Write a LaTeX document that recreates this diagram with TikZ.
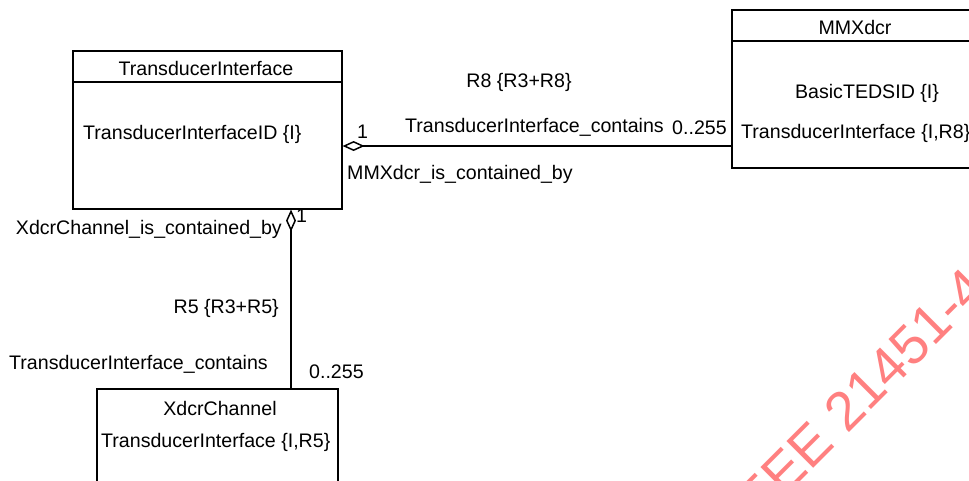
\documentclass[tikz,border=0pt]{standalone}
\usepackage{fontspec}
\setmainfont{Liberation Sans}
\usetikzlibrary{arrows.meta}
\definecolor{wmred}{RGB}{255,128,128}
\begin{document}
\begin{tikzpicture}[x=1pt,y=-1pt,
  box/.style={draw, line width=1.6pt, anchor=north west, inner sep=0pt},
  lbl/.style={inner sep=0pt, font=\fontsize{19.6}{23}\selectfont},
  divider/.style={line width=1.6pt},
  conn/.style={line width=1.5pt},
  agg/.style={conn, {Diamond[open,length=22pt,width=10pt]}-}]
\useasboundingbox (0,0) rectangle (969,480);
\clip (0,0) rectangle (969,480);
% watermark
\node[inner sep=0pt, rotate=45, anchor=base west, text=wmred,
      font=\fontsize{55}{60}\selectfont] (wm) at (747.6,534) {IEEE 21451-4};
% boxes
\node[box, minimum width=269pt, minimum height=158pt] (ti) at (72,50) {};
\node[box, minimum width=248pt, minimum height=158pt] (mm) at (731,9) {};
\node[box, minimum width=241pt, minimum height=140pt] (xc) at (96,388) {};
\coordinate (d1) at (0,82);
\coordinate (d2) at (0,41);
\draw[divider] (ti.west |- d1) -- (ti.east |- d1);
\draw[divider] (mm.west |- d2) -- (mm.east |- d2);
% box texts
\node[lbl, anchor=base] (titi) at (206,75) {TransducerInterface};
\node[lbl, anchor=base west] (tiattr) at (83,139) {TransducerInterfaceID \{I\}};
\node[lbl, anchor=base] (mmt) at (855,34) {MMXdcr};
\node[lbl, anchor=base] (mma1) at (867,98) {BasicTEDSID \{I\}};
\node[lbl, anchor=base west] (mma2) at (741,138) {TransducerInterface \{I,R8\}};
\node[lbl, anchor=base] (xct) at (220,415) {XdcrChannel};
\node[lbl, anchor=base west] (xca) at (101,447) {TransducerInterface \{I,R5\}};
% connectors
\coordinate (h) at (0,146);
\coordinate (v) at (291,0);
\draw[agg] (ti.east |- h) -- (mm.west |- h);
\draw[agg] (ti.south -| v) -- (xc.north -| v);
% connector labels
\node[lbl, anchor=base] (r8) at (519,87) {R8 \{R3+R8\}};
\node[lbl, anchor=base west] (one1) at (357,138) {1};
\node[lbl, anchor=base west] (ticont1) at (405,132) {TransducerInterface\_contains};
\node[lbl, anchor=base west] (m1) at (672,134) {0..255};
\node[lbl, anchor=base west] (mmcont) at (347,179) {MMXdcr\_is\_contained\_by};
\node[lbl, anchor=base west] (one2) at (296,222) {1};
\node[lbl, anchor=base east] (xccont) at (282,234) {XdcrChannel\_is\_contained\_by};
\node[lbl, anchor=base east] (r5) at (279,313) {R5 \{R3+R5\}};
\node[lbl, anchor=base west] (ticont2) at (9,369) {TransducerInterface\_contains};
\node[lbl, anchor=base west] (m2) at (309,378) {0..255};
\end{tikzpicture}
\end{document}
